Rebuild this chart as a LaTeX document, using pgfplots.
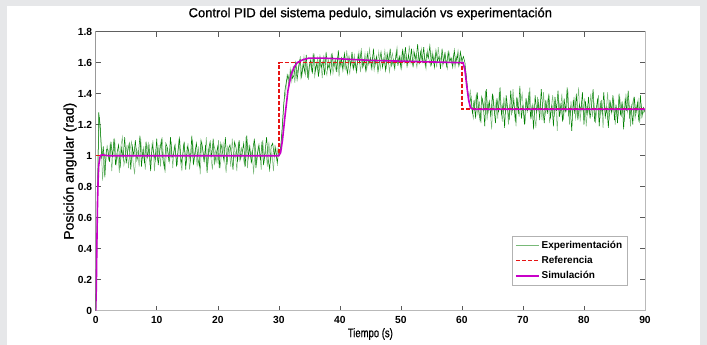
\documentclass[border=0pt]{standalone}
\usepackage{pgfplots}
\pgfplotsset{compat=1.18}
\usepackage{fontspec}
\setmainfont{Liberation Sans}
\newfontfamily\titlefont[FakeBold=0.9]{Liberation Sans}
\newfontfamily\xlabfont[FakeStretch=0.76, FakeBold=0.6]{Liberation Sans}
\newfontfamily\ylabfont[FakeBold=0.6]{Liberation Sans}
\definecolor{bggray}{HTML}{E6E7E9}
\definecolor{expgreen}{RGB}{0,128,0}
\definecolor{explight}{RGB}{120,185,120}
\definecolor{refred}{RGB}{230,20,20}
\definecolor{simmag}{RGB}{200,0,200}
\begin{document}
\begin{tikzpicture}
\path[use as bounding box] (0pt,0pt) rectangle (707pt,-345pt);
\fill[bggray] (0pt,0pt) rectangle (707pt,-345pt);
\fill[white] (7pt,-6pt) rectangle (700pt,-345pt);
\begin{axis}[
  at={(95.7pt,-310.7pt)}, anchor=south west,
  scale only axis, width=549.3pt, height=279pt,
  xmin=0, xmax=90, ymin=0, ymax=1.8,
  xtick={0,10,...,90},
  ytick={0,0.2,0.4,0.6,0.8,1,1.2,1.4,1.6,1.8},
  yticklabels={0,0.2,0.4,0.6,0.8,1,1.2,1.4,1.6,1.8},
  tick align=inside, major tick length=5pt,
  tick style={gray!70!black, line width=0.5pt},
  axis line style={draw=gray!55, line width=0.8pt},
  ticklabel style={font=\fontsize{10.3}{12}\selectfont\bfseries},
  /pgf/number format/assume math mode=true,
  xticklabel style={yshift=-2pt},
  title={Control PID del sistema pedulo, simulación vs experimentación},
  title style={at={(axis description cs:0.5,1)}, anchor=base, yshift=8.5pt, font=\fontsize{13}{15}\titlefont},
  xlabel={Tiempo (s)},
  xlabel style={at={(axis description cs:0.5,-0.095)}, anchor=base, font=\fontsize{12.5}{14}\xlabfont},
  ylabel={Posición angular (rad)},
  ylabel style={at={(axis description cs:-0.0401,0.5)}, anchor=base, font=\fontsize{14}{16}\ylabfont},
  legend style={at={(axis description cs:0.968,0.092)}, anchor=south east,
    draw=gray!60, font=\fontsize{10}{12}\selectfont\bfseries, inner xsep=3pt, inner ysep=2.5pt,
    row sep=2.5pt},
  legend cell align=left,
  legend image code/.code={\draw[#1] (0pt,0pt) -- (23pt,0pt);},
]
\addplot[explight, line width=0.5pt, forget plot] coordinates {
(0,0) (0.125,0.30) (0.375,1.00) (0.625,1.25) (0.875,1.10) (1.125,0.84) (1.375,1.02) (1.625,0.95) (1.875,1.07)
(2.125,0.97) (2.375,1.08) (2.625,0.90) (2.875,1.03) (3.125,1.10) (3.375,0.95) (3.625,1.01) (3.875,0.89)
(4.125,1.06) (4.375,1.12) (4.625,0.94) (4.875,0.99) (5.125,1.07) (5.375,0.92) (5.625,1.04) (5.875,1.09)
(6.125,0.96) (6.375,0.88) (6.625,1.05) (6.875,1.02) (7.125,0.93) (7.375,1.11) (7.625,0.98) (7.875,1.06)
(8.125,0.91) (8.375,1.03) (8.625,1.08) (8.875,0.95) (9.125,1.00) (9.375,1.10) (9.625,0.90) (9.875,1.04)
(10.125,0.97) (10.375,1.07) (10.625,0.93) (10.875,1.12) (11.125,0.99) (11.375,0.89) (11.625,1.05) (11.875,1.02)
(12.125,0.96) (12.375,1.09) (12.625,0.92) (12.875,1.06) (13.125,1.01) (13.375,0.94) (13.625,1.11) (13.875,0.98)
(14.125,0.90) (14.375,1.07) (14.625,1.03) (14.875,0.95) (15.125,1.08) (15.375,0.91) (15.625,1.00) (15.875,1.10)
(16.125,0.97) (16.375,1.04) (16.625,0.93) (16.875,1.06) (17.125,0.88) (17.375,1.09) (17.625,1.02) (17.875,0.96)
(18.125,1.12) (18.375,0.94) (18.625,1.05) (18.875,0.99) (19.125,0.91) (19.375,1.07) (19.625,1.03) (19.875,0.95)
(20.125,1.10) (20.375,0.92) (20.625,1.01) (20.875,1.08) (21.125,0.97) (21.375,0.89) (21.625,1.06) (21.875,1.04)
(22.125,0.93) (22.375,1.11) (22.625,0.98) (22.875,1.02) (23.125,0.90) (23.375,1.09) (23.625,0.96) (23.875,1.05)
(24.125,1.00) (24.375,0.94) (24.625,1.12) (24.875,0.92) (25.125,1.07) (25.375,0.99) (25.625,1.03) (25.875,0.88)
(26.125,1.08) (26.375,0.95) (26.625,1.06) (26.875,1.01) (27.125,0.91) (27.375,1.10) (27.625,0.97) (27.875,1.04)
(28.125,0.93) (28.375,1.09) (28.625,0.96) (28.875,1.02) (29.125,0.90) (29.375,1.07) (29.625,0.98) (29.875,1.05)
(30.125,1.01) (30.375,1.08) (30.625,1.20) (30.875,1.36) (31.125,1.40) (31.375,1.53) (31.625,1.45) (31.875,1.56)
(32.125,1.48) (32.375,1.58)
(32.625,1.47) (32.875,1.58) (33.125,1.53) (33.375,1.62) (33.625,1.50) (33.875,1.56) (34.125,1.64) (34.375,1.52)
(34.625,1.59) (34.875,1.49) (35.125,1.61) (35.375,1.55) (35.625,1.66) (35.875,1.51) (36.125,1.57) (36.375,1.63)
(36.625,1.54) (36.875,1.60) (37.125,1.50) (37.375,1.65) (37.625,1.56) (37.875,1.52) (38.125,1.62) (38.375,1.58)
(38.625,1.66) (38.875,1.53) (39.125,1.59) (39.375,1.55) (39.625,1.64) (39.875,1.51) (40.125,1.61) (40.375,1.57)
(40.625,1.63) (40.875,1.55) (41.125,1.68) (41.375,1.58) (41.625,1.53) (41.875,1.62) (42.125,1.57) (42.375,1.65)
(42.625,1.56) (42.875,1.60) (43.125,1.67) (43.375,1.54) (43.625,1.63) (43.875,1.58) (44.125,1.66) (44.375,1.55)
(44.625,1.61) (44.875,1.69) (45.125,1.57) (45.375,1.64) (45.625,1.55) (45.875,1.62) (46.125,1.59) (46.375,1.67)
(46.625,1.56) (46.875,1.63) (47.125,1.60) (47.375,1.68) (47.625,1.57) (47.875,1.65) (48.125,1.54) (48.375,1.62)
(48.625,1.66) (48.875,1.58) (49.125,1.63) (49.375,1.70) (49.625,1.59) (49.875,1.64) (50.125,1.56) (50.375,1.67)
(50.625,1.60) (50.875,1.65) (51.125,1.58) (51.375,1.71) (51.625,1.62) (51.875,1.59) (52.125,1.68) (52.375,1.63)
(52.625,1.57) (52.875,1.66) (53.125,1.61) (53.375,1.69) (53.625,1.60) (53.875,1.64) (54.125,1.56) (54.375,1.68)
(54.625,1.62) (54.875,1.58) (55.125,1.67) (55.375,1.60) (55.625,1.65) (55.875,1.57) (56.125,1.70) (56.375,1.61)
(56.625,1.64) (56.875,1.58) (57.125,1.66) (57.375,1.60) (57.625,1.56) (57.875,1.67) (58.125,1.62) (58.375,1.59)
(58.625,1.65) (58.875,1.57) (59.125,1.63) (59.375,1.68) (59.625,1.59) (59.875,1.64) (60.125,1.60) (60.375,1.58)
(60.625,1.55) (60.875,1.45) (61.125,1.36) (61.375,1.42) (61.625,1.30) (61.875,1.24)
(62.125,1.32) (62.375,1.40) (62.625,1.26) (62.875,1.35) (63.125,1.21) (63.375,1.37) (63.625,1.29) (63.875,1.42)
(64.125,1.23) (64.375,1.34) (64.625,1.30) (64.875,1.17) (65.125,1.39) (65.375,1.27) (65.625,1.36) (65.875,1.24)
(66.125,1.41) (66.375,1.31) (66.625,1.22) (66.875,1.38) (67.125,1.28) (67.375,1.35) (67.625,1.20) (67.875,1.33)
(68.125,1.26) (68.375,1.43) (68.625,1.30) (68.875,1.19) (69.125,1.37) (69.375,1.25) (69.625,1.34) (69.875,1.40)
(70.125,1.28) (70.375,1.22) (70.625,1.36) (70.875,1.31) (71.125,1.44) (71.375,1.24) (71.625,1.33) (71.875,1.27)
(72.125,1.18) (72.375,1.38) (72.625,1.29) (72.875,1.35) (73.125,1.23) (73.375,1.41) (73.625,1.26) (73.875,1.32)
(74.125,1.37) (74.375,1.21) (74.625,1.30) (74.875,1.39) (75.125,1.25) (75.375,1.34) (75.625,1.16) (75.875,1.36)
(76.125,1.28) (76.375,1.40) (76.625,1.23) (76.875,1.33) (77.125,1.29) (77.375,1.42) (77.625,1.20) (77.875,1.35)
(78.125,1.26) (78.375,1.38) (78.625,1.24) (78.875,1.31) (79.125,1.44) (79.375,1.22) (79.625,1.34) (79.875,1.28)
(80.125,1.37) (80.375,1.19) (80.625,1.32) (80.875,1.27) (81.125,1.40) (81.375,1.25) (81.625,1.35) (81.875,1.21)
(82.125,1.30) (82.375,1.39) (82.625,1.24) (82.875,1.36) (83.125,1.18) (83.375,1.33) (83.625,1.28) (83.875,1.41)
(84.125,1.23) (84.375,1.34) (84.625,1.29) (84.875,1.37) (85.125,1.20) (85.375,1.31) (85.625,1.26) (85.875,1.38)
(86.125,1.25) (86.375,1.33) (86.625,1.22) (86.875,1.40) (87.125,1.28) (87.375,1.35) (87.625,1.19) (87.875,1.32)
(88.125,1.37) (88.375,1.24) (88.625,1.30) (88.875,1.36) (89.125,1.21) (89.375,1.33) (89.625,1.27) (89.875,1.29)
};
\addplot[expgreen, line width=0.5pt, forget plot] coordinates {
(0,0) (0.25,0.55) (0.5,1.28) (0.75,1.18) (1,0.98) (1.25,1.06) (1.5,0.86) (1.75,1.04)
(2,1.04) (2.25,0.96) (2.5,1.09) (2.75,0.99) (3,1.11) (3.25,0.94) (3.5,1.02) (3.75,1.07)
(4,0.92) (4.25,1.05) (4.5,0.98) (4.75,1.12) (5,0.95) (5.25,1.03) (5.5,1.08) (5.75,0.91)
(6,1.06) (6.25,1.00) (6.5,1.10) (6.75,0.97) (7,1.01) (7.25,1.13) (7.5,0.93) (7.75,1.04)
(8,0.95) (8.25,1.09) (8.5,0.99) (8.75,1.06) (9,0.90) (9.25,1.07) (9.5,1.02) (9.75,0.97)
(10,1.11) (10.25,0.94) (10.5,1.03) (10.75,1.10) (11,0.98) (11.25,0.92) (11.5,1.08) (11.75,1.05)
(12,0.96) (12.25,1.12) (12.5,0.99) (12.75,1.01) (13,1.07) (13.25,0.93) (13.5,1.04) (13.75,1.11)
(14,0.95) (14.25,1.00) (14.5,1.09) (14.75,0.91) (15,1.06) (15.25,1.03) (15.5,0.97) (15.75,1.13)
(16,0.94) (16.25,1.02) (16.5,1.08) (16.75,0.98) (17,0.93) (17.25,1.10) (17.5,1.05) (17.75,0.96)
(18,1.07) (18.25,0.89) (18.5,1.04) (18.75,1.09) (19,0.99) (19.25,1.11) (19.5,0.95) (19.75,1.01)
(20,1.06) (20.25,0.92) (20.5,1.08) (20.75,1.03) (21,0.97) (21.25,1.12) (21.5,0.94) (21.75,1.04)
(22,1.07) (22.25,1.00) (22.5,0.91) (22.75,1.09) (23,1.05) (23.25,0.96) (23.5,1.10) (23.75,0.98)
(24,1.02) (24.25,1.08) (24.5,0.93) (24.75,1.13) (25,0.99) (25.25,1.06) (25.5,0.95) (25.75,1.04)
(26,1.11) (26.25,0.92) (26.5,1.01) (26.75,1.07) (27,0.97) (27.25,1.09) (27.5,0.94) (27.75,1.03)
(28,1.12) (28.25,0.98) (28.5,0.91) (28.75,1.06) (29,1.08) (29.25,1.00) (29.5,1.05) (29.75,0.95)
(30,1.04) (30.25,1.02) (30.5,1.15) (30.75,1.30) (31,1.42) (31.25,1.48) (31.5,1.52) (31.75,1.47)
(32,1.55) (32.25,1.50)
(32.5,1.52) (32.75,1.60) (33,1.49) (33.25,1.57) (33.5,1.63) (33.75,1.51) (34,1.59) (34.25,1.54)
(34.5,1.65) (34.75,1.50) (35,1.58) (35.25,1.62) (35.5,1.53) (35.75,1.66) (36,1.55) (36.25,1.60)
(36.5,1.51) (36.75,1.64) (37,1.57) (37.25,1.61) (37.5,1.52) (37.75,1.67) (38,1.56) (38.25,1.59)
(38.5,1.53) (38.75,1.65) (39,1.58) (39.25,1.62) (39.5,1.54) (39.75,1.68) (40,1.57) (40.25,1.63)
(40.5,1.55) (40.75,1.66) (41,1.59) (41.25,1.53) (41.5,1.64) (41.75,1.58) (42,1.67) (42.25,1.56)
(42.5,1.61) (42.75,1.54) (43,1.65) (43.25,1.60) (43.5,1.68) (43.75,1.57) (44,1.62) (44.25,1.55)
(44.5,1.66) (44.75,1.59) (45,1.63) (45.25,1.56) (45.5,1.69) (45.75,1.58) (46,1.64) (46.25,1.54)
(46.5,1.61) (46.75,1.67) (47,1.57) (47.25,1.63) (47.5,1.55) (47.75,1.66) (48,1.60) (48.25,1.69)
(48.5,1.58) (48.75,1.62) (49,1.56) (49.25,1.67) (49.5,1.59) (49.75,1.64) (50,1.57) (50.25,1.68)
(50.5,1.61) (50.75,1.70) (51,1.58) (51.25,1.65) (51.5,1.60) (51.75,1.69) (52,1.57) (52.25,1.66)
(52.5,1.62) (52.75,1.72) (53,1.59) (53.25,1.67) (53.5,1.61) (53.75,1.70) (54,1.58) (54.25,1.66)
(54.5,1.63) (54.75,1.71) (55,1.59) (55.25,1.65) (55.5,1.57) (55.75,1.68) (56,1.61) (56.25,1.64)
(56.5,1.56) (56.75,1.69) (57,1.60) (57.25,1.66) (57.5,1.58) (57.75,1.67) (58,1.61) (58.25,1.63)
(58.5,1.57) (58.75,1.68) (59,1.60) (59.25,1.65) (59.5,1.58) (59.75,1.67) (60,1.61) (60.25,1.64)
(60.5,1.60) (60.75,1.50) (61,1.40) (61.25,1.33) (61.5,1.38) (61.75,1.27)
(62,1.36) (62.25,1.24) (62.5,1.41) (62.75,1.30) (63,1.22) (63.25,1.38) (63.5,1.33) (63.75,1.19)
(64,1.43) (64.25,1.27) (64.5,1.35) (64.75,1.25) (65,1.40) (65.25,1.31) (65.5,1.21) (65.75,1.37)
(66,1.28) (66.25,1.44) (66.5,1.26) (66.75,1.34) (67,1.18) (67.25,1.39) (67.5,1.30) (67.75,1.23)
(68,1.42) (68.25,1.29) (68.5,1.36) (68.75,1.22) (69,1.38) (69.25,1.27) (69.5,1.45) (69.75,1.24)
(70,1.33) (70.25,1.20) (70.5,1.37) (70.75,1.29) (71,1.41) (71.25,1.25) (71.5,1.32) (71.75,1.17)
(72,1.39) (72.25,1.28) (72.5,1.35) (72.75,1.23) (73,1.43) (73.25,1.30) (73.5,1.21) (73.75,1.36)
(74,1.27) (74.25,1.40) (74.5,1.24) (74.75,1.33) (75,1.19) (75.25,1.38) (75.5,1.29) (75.75,1.42)
(76,1.25) (76.25,1.34) (76.5,1.22) (76.75,1.37) (77,1.28) (77.25,1.44) (77.5,1.26) (77.75,1.31)
(78,1.16) (78.25,1.36) (78.5,1.27) (78.75,1.40) (79,1.23) (79.25,1.33) (79.5,1.29) (79.75,1.41)
(80,1.20) (80.25,1.35) (80.5,1.26) (80.75,1.38) (81,1.24) (81.25,1.32) (81.5,1.43) (81.75,1.22)
(82,1.30) (82.25,1.37) (82.5,1.19) (82.75,1.34) (83,1.27) (83.25,1.41) (83.5,1.25) (83.75,1.31)
(84,1.18) (84.25,1.36) (84.5,1.28) (84.75,1.39) (85,1.23) (85.25,1.33) (85.5,1.21) (85.75,1.40)
(86,1.26) (86.25,1.35) (86.5,1.17) (86.75,1.37) (87,1.29) (87.25,1.42) (87.5,1.24) (87.75,1.32)
(88,1.20) (88.25,1.38) (88.5,1.27) (88.75,1.34) (89,1.22) (89.25,1.39) (89.5,1.25) (89.75,1.31)
(90,1.28)
};
\addplot[refred, line width=1.5pt, dash pattern=on 4pt off 2pt, forget plot] coordinates {
(0,1) (30,1) (30,1.6) (60,1.6) (60,1.3) (90,1.3)
};
\addplot[simmag, line width=1.6pt, forget plot] coordinates {
(0,0) (0.1,0.15) (0.2,0.45) (0.3,0.70) (0.4,0.85) (0.5,0.94) (0.7,0.99) (0.9,1.005) (1.2,1.005) (2,1.0)
(30,1.0) (30.3,1.02) (30.6,1.10) (31,1.25) (31.5,1.42) (32,1.52) (32.5,1.57) (33,1.60) (34,1.62)
(35,1.63) (37,1.63) (40,1.625) (45,1.615) (50,1.61) (55,1.605) (60,1.60)
(60.2,1.60) (60.5,1.55) (60.8,1.45) (61.1,1.36) (61.4,1.31) (61.8,1.30) (90,1.30)
};
\addlegendimage{explight, line width=0.9pt}
\addlegendentry{Experimentación}
\addlegendimage{refred, line width=1.5pt, dash pattern=on 4pt off 2pt}
\addlegendentry{Referencia}
\addlegendimage{simmag, line width=1.6pt}
\addlegendentry{Simulación}
\draw[gray!75!black, line width=0.6pt] (rel axis cs:0,0) -- (rel axis cs:0,1) -- (rel axis cs:1,1);
\end{axis}
\end{tikzpicture}
\end{document}
